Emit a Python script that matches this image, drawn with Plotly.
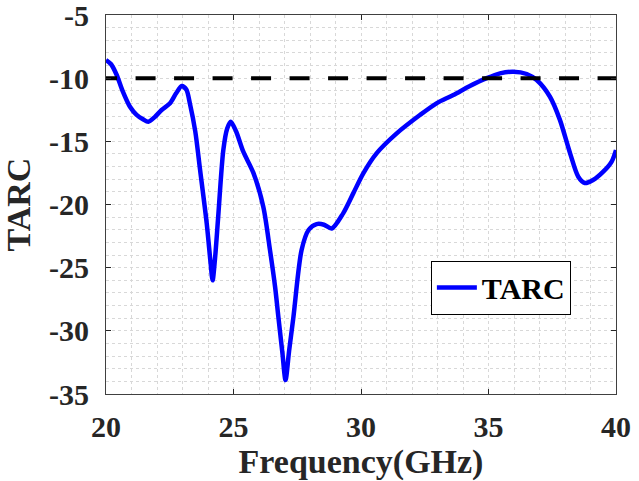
import plotly.graph_objects as go

freq = [20.0, 20.2, 20.42, 20.65, 20.94, 21.2, 21.45, 21.66, 21.9, 22.18, 22.51, 22.75, 22.97,
        23.15, 23.29, 23.5, 23.69, 23.95, 24.1, 24.18, 24.27, 24.4, 24.6, 24.75, 24.89,
        25.1, 25.38, 25.78, 26.17, 26.43, 26.63, 26.76, 26.92, 27.04, 27.18, 27.35, 27.67,
        27.95, 28.26, 28.55, 28.85, 29.3, 29.7, 30.09, 30.61, 31.4, 32.31, 32.96, 33.62,
        34.27, 34.93, 35.45, 35.97, 36.5, 36.89, 37.41, 37.8, 38.2, 38.52, 38.78, 39.1,
        39.5, 39.83, 40.0]
tarc = [-8.56, -8.9, -9.75, -11.0, -12.26, -12.9, -13.25, -13.45, -13.1, -12.52, -11.99, -11.2, -10.62,
        -10.9, -12.0, -14.2, -17.27, -21.5, -24.6, -26.0, -24.4, -20.97, -15.7, -14.0, -13.45,
        -14.2, -15.8, -17.5, -20.2, -23.6, -26.5, -28.9, -31.8, -33.9, -31.6, -28.9, -23.6,
        -22.0, -21.55, -21.6, -21.9, -20.7, -19.1, -17.53, -15.95, -14.37, -12.92, -11.99, -11.33,
        -10.62, -10.0, -9.62, -9.49, -9.67, -10.15, -11.47, -13.3, -15.95, -17.8, -18.3, -18.06,
        -17.4, -16.6, -15.69]

ref_x = [19.65, 40.6]
ref_y = [-10, -10]

xticks = [20, 25, 30, 35, 40]
yticks = [-35, -30, -25, -20, -15, -10, -5]

FONT = "Liberation Serif"
AX = "#262626"

fig = go.Figure()
fig.add_trace(go.Scatter(x=freq, y=tarc, mode="lines", name="<b>TARC</b>",
                         line=dict(color="#0000FF", width=4.5, shape="spline", smoothing=0.8)))
fig.add_trace(go.Scatter(x=ref_x, y=ref_y, mode="lines", showlegend=False,
                         line=dict(color="black", width=4, dash="20px,18.5px")))

axis_common = dict(
    showline=True, linecolor="#404040", linewidth=1.2, mirror="allticks",
    ticks="inside", ticklen=5, tickcolor=AX, tickwidth=1,
    showgrid=True, gridcolor="#d8d8d8", griddash="dot", gridwidth=1,
    zeroline=False, automargin=False, ticklabeloverflow="allow",
    tickfont=dict(family=FONT, size=30, color=AX),
)

fig.update_xaxes(range=[20, 40], tickvals=xticks, ticktext=[f"<b>{v}</b>" for v in xticks],
                 minor=dict(dtick=1, showgrid=True, gridcolor="#d8d8d8", griddash="dot", ticks=""),
                 title=dict(text="<b>Frequency(GHz)</b>", font=dict(family=FONT, size=34, color=AX), standoff=8),
                 ticklabelstandoff=6,
                 **axis_common)
fig.update_yaxes(range=[-35, -5], tickvals=yticks, ticktext=[f"<b>{v}</b>" for v in yticks],
                 minor=dict(dtick=1, showgrid=True, gridcolor="#d8d8d8", griddash="dot", ticks=""),
                 title=dict(text="<b>TARC</b>", font=dict(family=FONT, size=34, color=AX), standoff=10),
                 ticklabelstandoff=10,
                 **axis_common)

fig.update_layout(
    width=639, height=481,
    margin=dict(l=106, r=23, t=15, b=87),
    paper_bgcolor="white", plot_bgcolor="white",
    showlegend=True,
    legend=dict(x=0.637, y=0.352, xanchor="left", yanchor="top",
                bgcolor="white", bordercolor="black", borderwidth=1,
                font=dict(family=FONT, size=30, color="black"),
                itemwidth=40, tracegroupgap=0),
)

fig.write_html("out.html")
